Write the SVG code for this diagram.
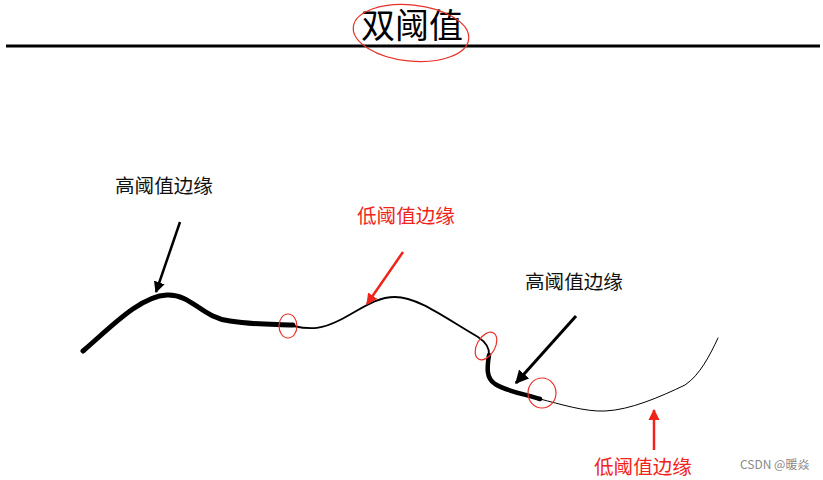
<svg xmlns="http://www.w3.org/2000/svg" width="823" height="480" viewBox="0 0 823 480">
<style>
.lbl{font-family:"Noto Sans CJK SC","Noto Sans",sans-serif;font-size:19.6px}
.blk{fill:#111}
.red{fill:#f0241b}
.mark{fill:none;stroke:#e8322a;stroke-width:1.2}
.edge{fill:none;stroke:#000;stroke-linecap:round;stroke-linejoin:round}
</style>
<defs>
<marker id="ahB" viewBox="0 0 10 10" refX="9" refY="5" markerWidth="4.5" markerHeight="4.5" orient="auto" markerUnits="strokeWidth"><path d="M0,0 L10,5 L0,10 z" fill="#000"/></marker>
<marker id="ahR" viewBox="0 0 10 10" refX="9" refY="5" markerWidth="4.5" markerHeight="4.5" orient="auto" markerUnits="strokeWidth"><path d="M0,0 L10,5 L0,10 z" fill="#f0241b"/></marker>
</defs>
<rect width="823" height="480" fill="#fff"/>
<g id="title">
<text x="412" y="38" text-anchor="middle" font-family="Noto Sans CJK SC, sans-serif" font-size="34" fill="#000">双阈值</text>
<line x1="6" y1="46" x2="820" y2="46" stroke="#000" stroke-width="3"/>
<ellipse cx="411" cy="33" rx="58" ry="28" transform="rotate(6 411 33)" class="mark"/>
</g>
<g id="edges">
<path class="edge" stroke-width="5" d="M83,351 C110,328 140,296 167,295 C192,294 202,318 230,321 C255,325 275,324 293,325"/>
<path class="edge" stroke-width="1.8" d="M293,326 C312,330 322,329 340,320 C360,310 375,297 395,297 C418,297 445,318 478,337 Q490,345 489,355"/>
<path class="edge" stroke-width="4.5" d="M489,355 C487,368 486,378 495,384 C508,392 525,394 540,399"/>
<path class="edge" stroke-width="1" d="M540,399 C560,404 585,412 605,411 C630,410 660,397 685,385 C700,375 710,355 718,338"/>
</g>
<g id="connectors">
<line x1="180" y1="222" x2="156" y2="292" stroke="#000" stroke-width="2.5" marker-end="url(#ahB)"/>
<line x1="403" y1="252" x2="367" y2="304" stroke="#f0241b" stroke-width="2.5" marker-end="url(#ahR)"/>
<line x1="576" y1="316" x2="516" y2="383" stroke="#000" stroke-width="3" marker-end="url(#ahB)"/>
<line x1="654" y1="450" x2="654" y2="410" stroke="#f0241b" stroke-width="2.5" marker-end="url(#ahR)"/>
</g>
<g id="marks">
<ellipse cx="288" cy="326" rx="9" ry="12" class="mark"/>
<ellipse cx="486" cy="346" rx="9" ry="15" transform="rotate(30 486 346)" class="mark"/>
<ellipse cx="542" cy="393" rx="14" ry="15" class="mark"/>
</g>
<g id="label1"><text x="115" y="193" class="lbl blk">高阈值边缘</text></g>
<g id="label2"><text x="357" y="223" class="lbl red">低阈值边缘</text></g>
<g id="label3"><text x="525" y="289" class="lbl blk">高阈值边缘</text></g>
<g id="label4"><text x="594" y="474" class="lbl red">低阈值边缘</text></g>
<text x="740" y="469" font-family="Noto Sans CJK SC, sans-serif" font-size="12" fill="#888">CSDN @暖焱</text>
</svg>
